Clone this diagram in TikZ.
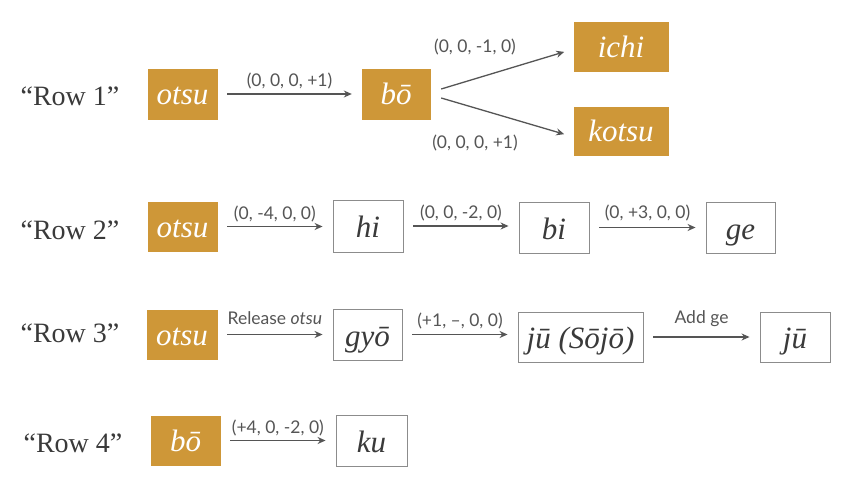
\documentclass[tikz,border=0pt]{standalone}
\usepackage{fontspec}
\setmainfont{Liberation Serif}
\newfontfamily\labfont{Lato}
\usetikzlibrary{arrows.meta}
\definecolor{gold}{HTML}{CE9738}
\definecolor{txt}{HTML}{3A3A3A}
\definecolor{lgray}{HTML}{555555}
\definecolor{bgray}{HTML}{8C8C8C}
\begin{document}
\begin{tikzpicture}[x=1pt,y=-1pt,
  gbox/.style={fill=gold, draw=gold, text=white, inner sep=0pt,
    text height=22pt, text depth=0pt,
    font=\fontsize{31}{33}\selectfont\itshape},
  wbox/.style={fill=white, draw=bgray, line width=0.9pt, text=txt, inner sep=0pt,
    text height=23pt, text depth=0pt,
    font=\fontsize{31}{33}\selectfont\itshape},
  rowlab/.style={text=txt, font=\fontsize{28}{30}\selectfont},
  lab/.style={text=lgray, font=\labfont\fontsize{17.5}{19}\selectfont, inner sep=1pt},
  arr/.style={draw=lgray, line width=1.3pt, -{Stealth[length=8pt,width=7pt]},
    shorten <=10pt, shorten >=10pt}
]
\useasboundingbox (0,0) rectangle (850,481);
\fill[white] (0,0) rectangle (850,481);

% Row 1
\node[rowlab] (r1) at (70,96) {“Row 1”};
\node[gbox, minimum width=69pt, minimum height=50pt] (o1) at (182.5,94) {otsu};
\node[gbox, minimum width=68pt, minimum height=50pt] (bo1) at (396,94) {bō};
\node[gbox, minimum width=94pt, minimum height=49pt] (ichi) at (621,46.5) {ichi};
\node[gbox, minimum width=94pt, minimum height=48pt] (kotsu) at (621,131) {kotsu};
\draw[arr] (o1) -- node[lab, above=3pt] {(0, 0, 0, +1)} (bo1);
\coordinate (s1) at ([xshift=11pt,yshift=5pt]bo1.east);
\coordinate (s2) at ([xshift=11pt,yshift=-4pt]bo1.east);
\coordinate (e1) at ([yshift=-2.5pt]ichi.west);
\coordinate (e2) at ([yshift=-6pt]kotsu.west);
\draw[arr, shorten <=0pt] (s1) -- (e1);
\draw[arr, shorten <=0pt] (s2) -- (e2);
\node[lab] (l1a) at (475,47) {(0, 0, -1, 0)};
\node[lab] (l1b) at (475,143) {(0, 0, 0, +1)};

% Row 2
\node[rowlab] (r2) at (70,230) {“Row 2”};
\node[gbox, minimum width=69pt, minimum height=49pt] (o2) at (182.5,226.5) {otsu};
\node[wbox, minimum width=70pt, minimum height=52pt] (hi) at (368,226) {hi};
\node[wbox, minimum width=70pt, minimum height=51pt] (bi) at (554,227.5) {bi};
\node[wbox, minimum width=69pt, minimum height=51pt] (ge) at (740.5,227.5) {ge};
\draw[arr] (o2.east) -- node[lab, above=3pt] {(0, -4, 0, 0)} (o2.east -| hi.west);
\draw[arr] (hi.east) -- node[lab, above=3pt] {(0, 0, -2, 0)} (hi.east -| bi.west);
\draw[arr] (bi.east) -- node[lab, above=5pt] {(0, +3, 0, 0)} (bi.east -| ge.west);

% Row 3
\node[rowlab] (r3) at (70,333) {“Row 3”};
\node[gbox, minimum width=70pt, minimum height=49pt] (o3) at (182,334.5) {otsu};
\node[wbox, minimum width=69pt, minimum height=51pt] (gyo) at (367.5,334.5) {gyō};
\node[wbox, minimum width=125pt, minimum height=50pt] (sojo) at (580.5,337) {jū (Sōjō)};
\node[wbox, minimum width=70pt, minimum height=50pt] (ju) at (795,337) {jū};
\draw[arr] (o3.east) -- node[lab, above=8pt] {Release \textit{otsu}} (o3.east -| gyo.west);
\draw[arr] (gyo.east) -- node[lab, above=4pt] {(+1, –, 0, 0)} (gyo.east -| sojo.west);
\draw[arr] (sojo.east) -- node[lab, above=9pt] {Add ge} (sojo.east -| ju.west);

% Row 4
\node[rowlab] (r4) at (73,443) {“Row 4”};
\node[gbox, minimum width=69pt, minimum height=49pt] (bo4) at (185.5,440.5) {bō};
\node[wbox, minimum width=71pt, minimum height=51pt] (ku) at (371.5,440.5) {ku};
\draw[arr] (bo4.east) -- node[lab, above=3pt] {(+4, 0, -2, 0)} (bo4.east -| ku.west);
\end{tikzpicture}
\end{document}
